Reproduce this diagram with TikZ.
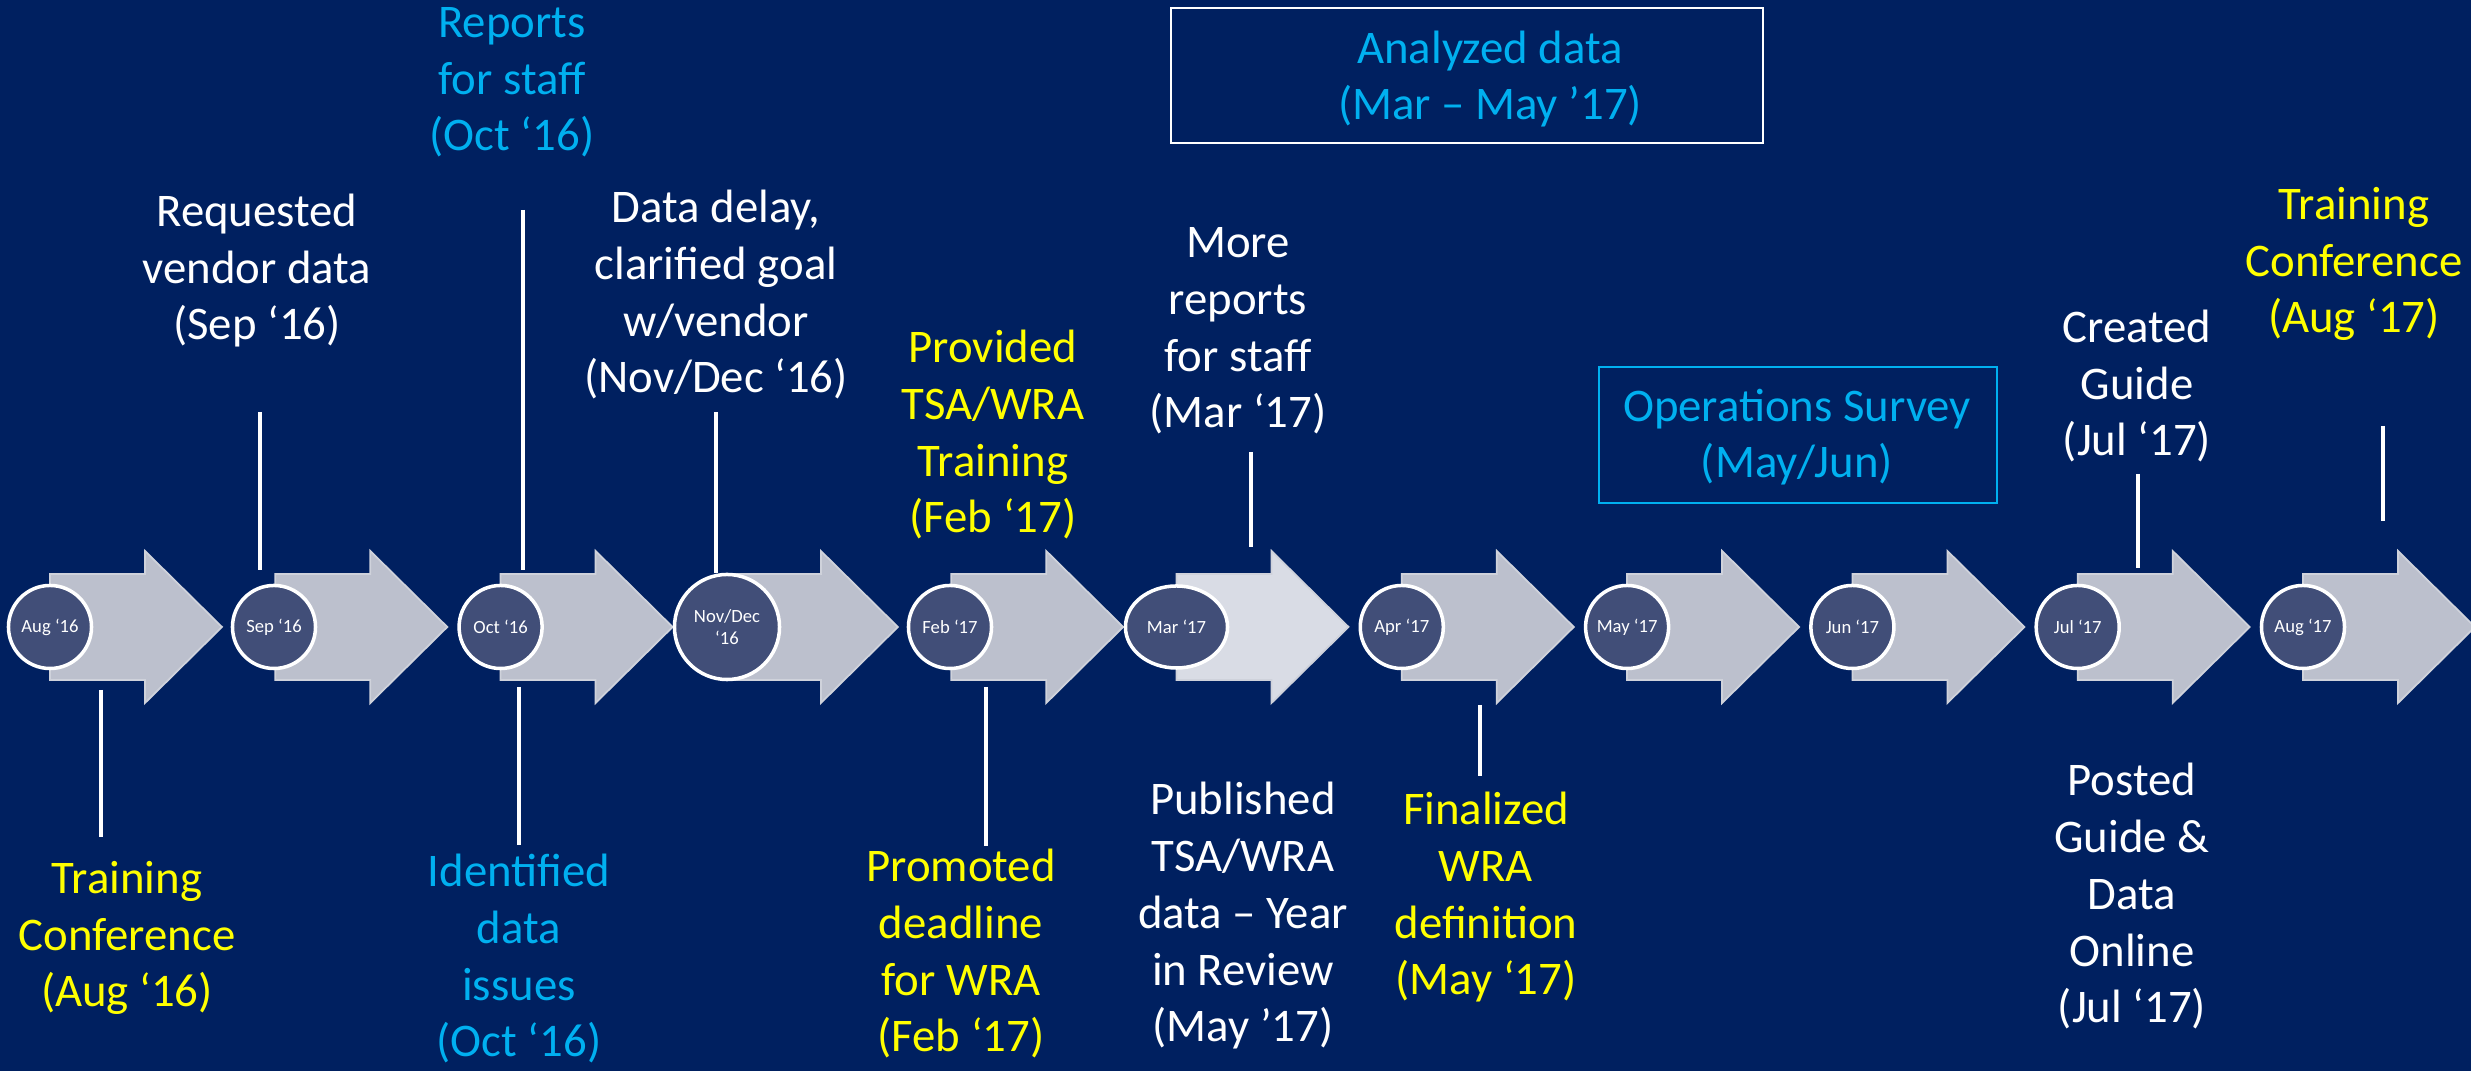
\documentclass[tikz,border=0pt]{standalone}
\usepackage{fontspec}
\setmainfont{Carlito}
\usetikzlibrary{shapes.geometric}
\definecolor{navy}{HTML}{002060}
\definecolor{eventyellow}{HTML}{FFFF00}
\definecolor{eventcyan}{HTML}{00B0F0}
\definecolor{arrowgray}{HTML}{BCC0CD}
\definecolor{arrowlight}{HTML}{D9DCE5}
\definecolor{arrowedge}{HTML}{CFD2DB}
\definecolor{circlefill}{HTML}{414E78}
\begin{document}
\begin{tikzpicture} [
        x=0.01cm, y=-0.01cm,
        event/.style={align=center, inner sep=0pt, anchor=base, font=\fontsize{13.3}{16.2}\selectfont},
        whitetext/.style={event, text=white},
        yellowtext/.style={event, text=eventyellow},
        cyantext/.style={event, text=eventcyan},
        datecircle/.style={circle, draw=white, line width=1pt, fill=circlefill, text=white,
            minimum size=0.83cm, inner sep=0pt, align=center, font=\fontsize{5.3}{6.2}\selectfont},
        tickline/.style={draw=white, line width=1pt} ]
    \fill[navy] (0,0) rectangle (2471,1071);
    \useasboundingbox (0,0) rectangle (2471,1071);

    % chevron arrows
    \foreach \i/\col in {0/arrowgray,1/arrowgray,2/arrowgray,3/arrowgray,4/arrowgray,5/arrowlight,
                         6/arrowgray,7/arrowgray,8/arrowgray,9/arrowgray,10/arrowgray}
        \filldraw[fill=\col, draw=arrowedge, line width=0.5pt]
            ({50+225.3*\i},574) -- ++(95,0) -- ++(0,-23) -- ({222+225.3*\i},627)
            -- ({145+225.3*\i},703) -- ++(0,-23) -- ({50+225.3*\i},680) -- cycle;

    % month circles
    \node[datecircle] (aug16) at (50,627) {Aug ‘16};
    \node[datecircle] (sep16) at (274,627) {Sep ‘16};
    \node[datecircle] (oct16) at (500.6,627) {Oct ‘16};
    \node[datecircle, minimum size=1.05cm] (novdec16) at (727,627) {Nov/Dec\\‘16};
    \node[datecircle] (feb17) at (950,627) {Feb ‘17};
    \node[datecircle, ellipse, minimum width=1.02cm, minimum height=0.82cm] (mar17) at (1176.5,627) {Mar ‘17};
    \node[datecircle] (apr17) at (1401.8,627) {Apr ‘17};
    \node[datecircle] (may17) at (1627.1,627) {May ‘17};
    \node[datecircle] (jun17) at (1852.4,627) {Jun ‘17};
    \node[datecircle] (jul17) at (2077.7,627) {Jul ‘17};
    \node[datecircle] (aug17) at (2303,627) {Aug ‘17};

    % events above (placed at the baseline of their last line)
    \node[cyantext] (reports) at (512,151) {Reports\\for staff\\(Oct ‘16)};
    \node[whitetext] (requested) at (257,340) {Requested\\vendor data\\(Sep ‘16)};
    \node[whitetext] (delay) at (716,393) {Data delay,\\clarified goal\\w/vendor\\(Nov/Dec ‘16)};
    \node[yellowtext] (provided) at (993,533) {Provided\\TSA/WRA\\Training\\(Feb ‘17)};
    \node[whitetext] (morereports) at (1238,428) {More\\reports\\for staff\\(Mar ‘17)};
    \node[cyantext] (analyzed) at (1490,120) {Analyzed data\\(Mar – May ’17)};
    \draw[white, line width=0.6pt] (1171,8) rectangle (1763,143);
    \node[cyantext] (survey) at (1797,478) {Operations Survey\\(May/Jun)};
    \draw[eventcyan, line width=0.6pt] (1599,367) rectangle (1997,503);
    \node[whitetext] (created) at (2137,456) {Created\\Guide\\(Jul ‘17)};
    \node[yellowtext] (conf17) at (2354,333) {Training\\Conference\\(Aug ‘17)};

    % events below
    \node[yellowtext] (conf16) at (127,1007) {Training\\Conference\\(Aug ‘16)};
    \node[cyantext] (identified) at (519,1057) {Identified\\data\\issues\\(Oct ‘16)};
    \node[yellowtext] (promoted) at (961,1052) {Promoted\\deadline\\for WRA\\(Feb ‘17)};
    \node[whitetext] (published) at (1243,1042) {Published\\TSA/WRA\\data – Year\\in Review\\(May ’17)};
    \node[yellowtext] (finalized) at (1486,995) {Finalized\\WRA\\definition\\(May ‘17)};
    \node[whitetext] (posted) at (2132,1023) {Posted\\Guide \&\\Data\\Online\\(Jul ‘17)};

    % tick lines
    \coordinate (sepA) at (260,412);   \coordinate (sepB) at (260,570);
    \coordinate (octA) at (523,210);   \coordinate (octB) at (523,570);
    \coordinate (novA) at (716,412);
    \coordinate (marA) at (1251,452);  \coordinate (marB) at (1251,547);
    \coordinate (julA) at (2138,474);  \coordinate (julB) at (2138,568);
    \coordinate (augA) at (2383,426);  \coordinate (augB) at (2383,521);
    \coordinate (confA) at (101,690);  \coordinate (confB) at (101,837);
    \coordinate (idA) at (519,687);    \coordinate (idB) at (519,845);
    \coordinate (febA) at (986,687);   \coordinate (febB) at (986,846);
    \coordinate (finA) at (1480,705);  \coordinate (finB) at (1480,776);
    \draw[tickline] (sepA) -- (sepB);
    \draw[tickline] (octA) -- (octB);
    \draw[tickline] (novA) -- (novA |- novdec16.north);
    \draw[tickline] (marA) -- (marB);
    \draw[tickline] (julA) -- (julB);
    \draw[tickline] (augA) -- (augB);
    \draw[tickline] (confA) -- (confB);
    \draw[tickline] (idA) -- (idB);
    \draw[tickline] (febA) -- (febB);
    \draw[tickline] (finA) -- (finB);
\end{tikzpicture}
\end{document}
